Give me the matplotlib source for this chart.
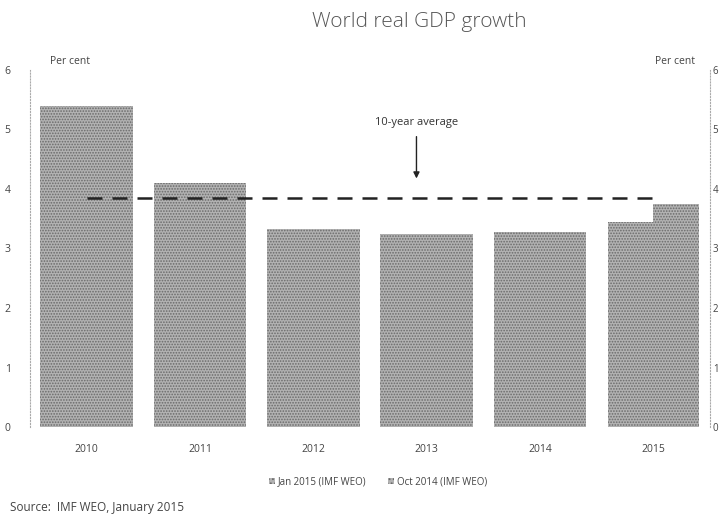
import matplotlib
matplotlib.use("Agg")
import matplotlib.pyplot as plt
import numpy as np

# Daten
years = ["2010", "2011", "2012", "2013", "2014", "2015"]
jan_2015 = [5.4, 4.1, 3.33, 3.25, 3.28, 3.45]
oct_2014 = [None, None, None, None, None, 3.75]
avg_10y = 3.85
y_ticks = [0, 1, 2, 3, 4, 5, 6]

plt.rcParams["font.family"] = ["Open Sans", "DejaVu Sans"]
plt.rcParams["hatch.linewidth"] = 0.8

fig = plt.figure(figsize=(7.2, 5.19), dpi=100)
ax = fig.add_axes([30 / 720, 92 / 519, 680 / 720, 357 / 519])

x = np.arange(len(years))
bar_col = "#b2b2b2"
dot_col = "#6a6a6a"

# Einzelbalken, ausser im letzten Jahr (zwei Prognosen nebeneinander)
for i, (a, b) in enumerate(zip(jan_2015, oct_2014)):
    if b is None:
        ax.bar(x[i], a, width=0.82, facecolor=bar_col, hatch="......",
               edgecolor=dot_col, linewidth=0)
    else:
        ax.bar(x[i] - 0.2, a, width=0.4, facecolor=bar_col, hatch="......",
               edgecolor=dot_col, linewidth=0)
        ax.bar(x[i] + 0.2, b, width=0.4, facecolor=bar_col, hatch="......",
               edgecolor=dot_col, linewidth=0)

# 10-Jahres-Durchschnitt
ax.plot([0, 5.0], [avg_10y, avg_10y], color="#222222", lw=1.8,
        dashes=(6, 4))
ax.annotate("10-year average", xy=(2.91, avg_10y + 0.28),
            xytext=(2.91, 5.02), ha="center", va="bottom",
            fontsize=8, color="#333333",
            arrowprops=dict(arrowstyle="-|>", color="#222222", lw=1.0,
                            mutation_scale=9, shrinkA=4))

ax.set_xlim(-0.5, 5.5)
ax.set_ylim(0, 6)
ax.set_xticks(x)
ax.set_xticklabels(years, fontsize=7.5, color="#444444")
ax.set_yticks(y_ticks)
ax.set_yticklabels([str(t) for t in y_ticks], fontsize=7.5, color="#444444")
ax.tick_params(axis="x", length=0, pad=12)
ax.tick_params(axis="y", length=0, pad=14)

for s in ["top", "bottom"]:
    ax.spines[s].set_visible(False)
for s in ["left", "right"]:
    ax.spines[s].set_linestyle(":")
    ax.spines[s].set_color("#aaaaaa")
    ax.spines[s].set_linewidth(0.8)

ax2 = ax.twinx()
ax2.set_ylim(0, 6)
ax2.set_yticks(y_ticks)
ax2.set_yticklabels([str(t) for t in y_ticks], fontsize=7, color="#444444")
ax2.tick_params(axis="y", length=0, pad=2)
for s in ax2.spines.values():
    s.set_visible(False)

fig.text(50 / 720, 1 - 62 / 519, "Per cent", fontsize=7.5, color="#444444",
         va="center")
fig.text(695 / 720, 1 - 62 / 519, "Per cent", fontsize=7.5, color="#444444",
         va="center", ha="right")

fig.text(419 / 720, 1 - 22 / 519, "World real GDP growth", fontsize=15,
         color="#555555", ha="center", va="center", fontweight="light")

# Legende
h1 = plt.Rectangle((0, 0), 1, 1, facecolor=bar_col, edgecolor=dot_col,
                   hatch="....", linewidth=0)
h2 = plt.Rectangle((0, 0), 1, 1, facecolor=bar_col, edgecolor=dot_col,
                   hatch="....", linewidth=0)
fig.legend([h1, h2], ["Jan 2015 (IMF WEO)", "Oct 2014 (IMF WEO)"],
           loc="center", bbox_to_anchor=(378 / 720, 1 - 482 / 519),
           ncol=2, frameon=False, fontsize=7, handlelength=0.6,
           handleheight=0.6, handletextpad=0.3, columnspacing=2.2,
           labelcolor="#444444")

fig.text(10 / 720, 1 - 508 / 519, "Source:  IMF WEO, January 2015",
         fontsize=8.5, color="#444444", va="center")

fig.savefig("out.png", dpi=100)
